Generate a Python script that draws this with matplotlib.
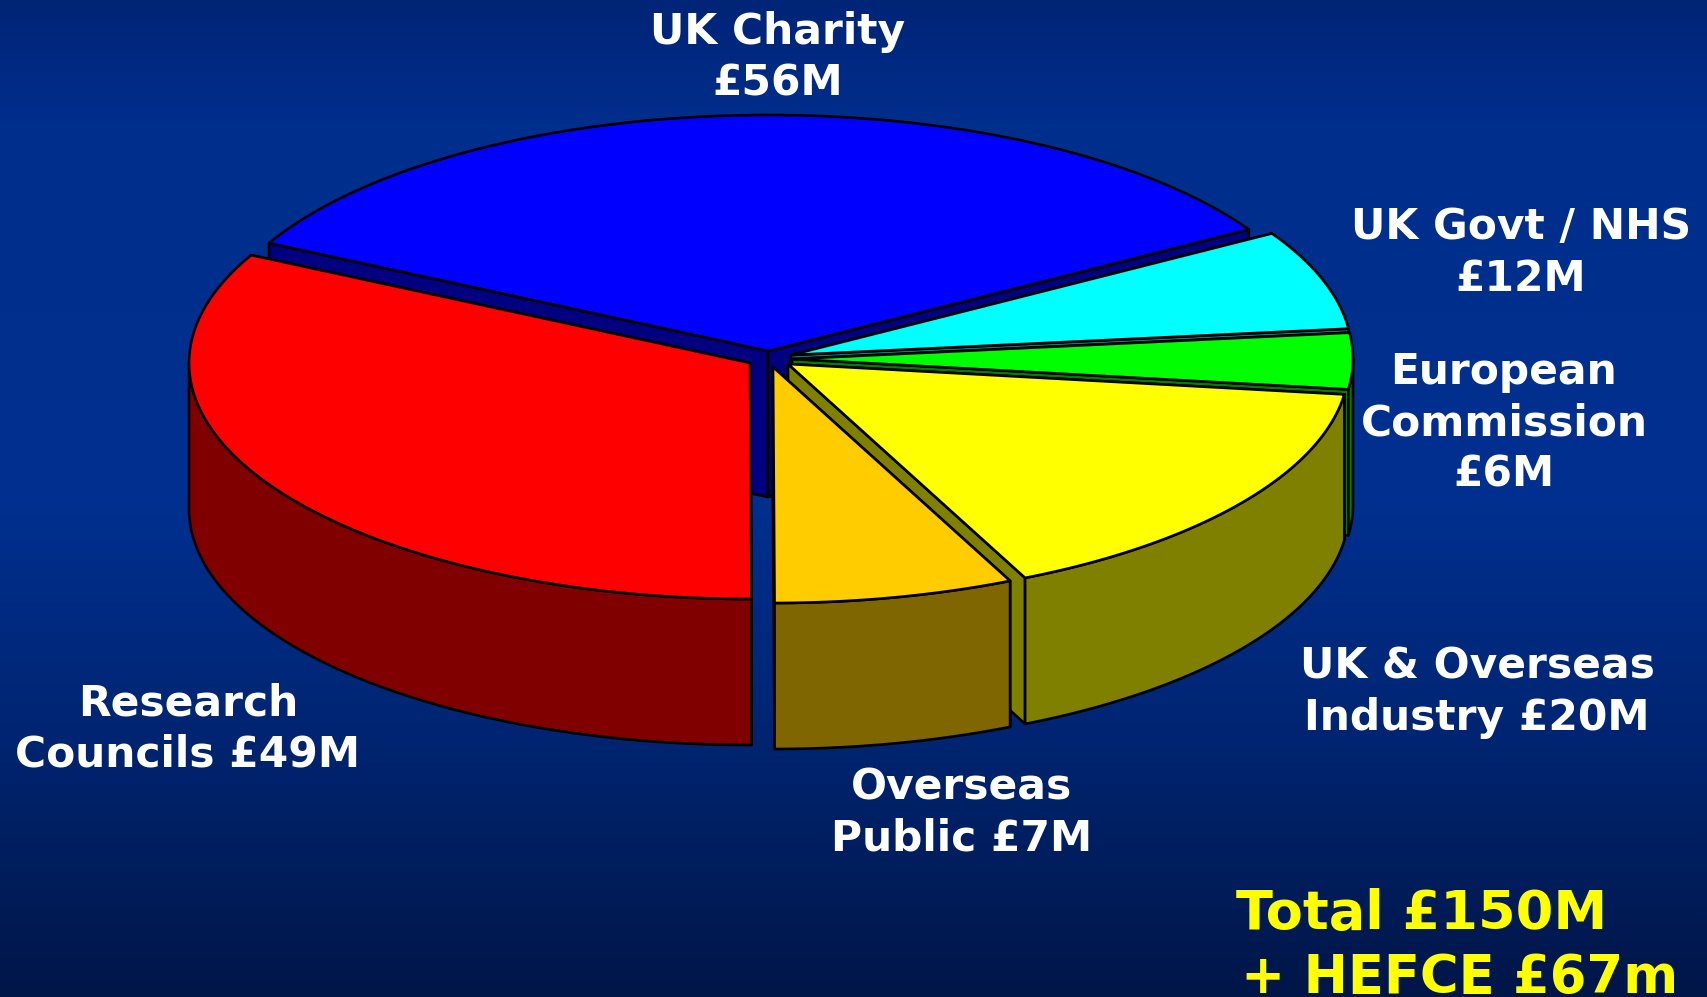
import numpy as np
import matplotlib
matplotlib.use('Agg')
import matplotlib.pyplot as plt

# slices, back one first so the nearer ones get painted over it
names = ['UK Charity', 'UK Govt / NHS', 'European Commission', 'UK & Overseas Industry', 'Overseas Public', 'Research Councils']
# share of the pie as drawn (it doesn't follow the printed figures exactly)
shares = [50.75, 10.25, 5.75, 24.0, 10.35, 48.9]
top_colours = ['#0000ff', '#00ffff', '#00ff00', '#ffff00', '#ffcc00', '#ff0000']
side_colours = ['#000080', '#008080', '#008000', '#808000', '#806600', '#800000']
# apex of every exploded slice, in pixels
apex_x = [768, 791, 792, 788, 773, 750]
apex_y = [351, 355, 359, 364, 367, 363]

labels = ['UK Charity\n£56M', 'UK Govt / NHS\n£12M', 'European\nCommission\n£6M',
          'UK & Overseas\nIndustry £20M', 'Overseas\nPublic £7M', 'Research\nCouncils £49M']
label_x = [778, 1521, 1504, 1477, 962, 188]
label_y = [58, 253, 423, 692, 813, 729]

total_lines = ['Total £150M', '+ HEFCE £67m']
total_x = [1236, 1241]
total_base = [929, 993]
total_size = [39, 38]

# background gradient, top to bottom
bg_pos = [0.0, 0.12, 0.5, 0.75, 1.0]
bg_r = [0, 0, 0, 0, 0]
bg_g = [36, 46, 48, 36, 22]
bg_b = [118, 140, 144, 112, 72]

W, H = 1708, 997
RX, RY = 561, 236
DEPTH = 146
START = 152.8
LW = 1.9

fig = plt.figure(figsize=(W / 100, H / 100), dpi=100)
ax = fig.add_axes([0, 0, 1, 1])
ax.set_xlim(0, W)
ax.set_ylim(H, 0)
ax.set_axis_off()

rows = np.linspace(0, 1, 256)
grad = np.stack([np.interp(rows, bg_pos, bg_r), np.interp(rows, bg_pos, bg_g), np.interp(rows, bg_pos, bg_b)], axis=1) / 255
ax.imshow(grad[:, None, :], extent=[0, W, H, 0], aspect='auto', zorder=0)


def rim(cx, cy, t0, t1):
    t = np.radians(np.linspace(t0, t1, 120))
    return cx + RX * np.cos(t), cy - RY * np.sin(t)


def draw_poly(xs, ys, colour):
    ax.fill(xs, ys, facecolor=colour, edgecolor='black', linewidth=LW, joinstyle='round', zorder=2)


angle = START
for i in range(len(shares)):
    sweep = shares[i] / sum(shares) * 360
    a0, a1 = angle, angle - sweep
    angle = a1
    cx, cy = apex_x[i], apex_y[i]
    side = side_colours[i]

    # the two cut faces
    for a in (a0, a1):
        ex, ey = rim(cx, cy, a, a)
        draw_poly([cx, ex[0], ex[0], cx], [cy, ey[0], ey[0] + DEPTH, cy + DEPTH], side)

    # outer wall, only the front half of the rim can be seen
    p0, p1 = max(a1, -180), min(a0, 0)
    if p1 > p0:
        rx, ry = rim(cx, cy, p1, p0)
        draw_poly(np.r_[rx, rx[::-1]], np.r_[ry, ry[::-1] + DEPTH], side)

    # top
    rx, ry = rim(cx, cy, a0, a1)
    draw_poly(np.r_[cx, rx], np.r_[cy, ry], top_colours[i])

for i in range(len(labels)):
    ax.text(label_x[i], label_y[i], labels[i], color='white', fontsize=30.5, fontweight='bold',
            family='DejaVu Sans', ha='center', va='center', linespacing=1.28, zorder=3)

for i in range(len(total_lines)):
    ax.text(total_x[i], total_base[i], total_lines[i], color='#ffff00', fontsize=total_size[i], fontweight='bold',
            family='DejaVu Sans', ha='left', va='baseline', zorder=3)

fig.savefig('out.png', dpi=100)
